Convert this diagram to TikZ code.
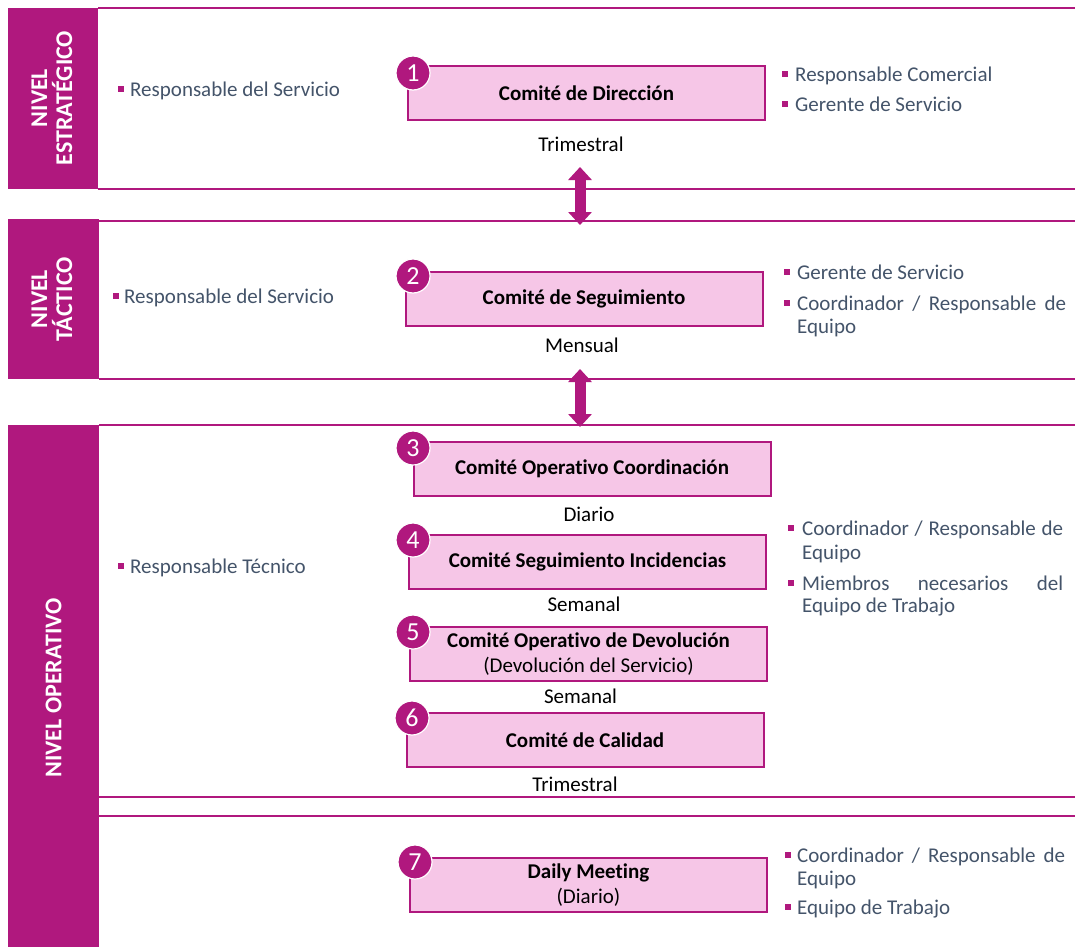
\documentclass[tikz,border=0pt]{standalone}
\usepackage{fontspec}
\setmainfont{Carlito}[Ligatures={NoCommon,NoContextual}]
\usetikzlibrary{arrows.meta}
\definecolor{brand}{HTML}{B0187E}
\definecolor{pinkfill}{HTML}{F6C6E7}
\definecolor{txt}{HTML}{44546A}
\newcommand\bodyfont{\fontsize{21}{24}\selectfont}
\begin{document}
\begin{tikzpicture}[x=1pt,y=-1pt,
  every node/.style={font=\bodyfont},
  sep/.style={draw=brand, line width=2pt},
  comite/.style={draw=brand, line width=2pt, fill=pinkfill, minimum width=357pt,
    minimum height=54pt, inner sep=0pt, align=center, text=black, font=\bodyfont\bfseries},
  num/.style={circle, fill=brand, draw=white, line width=1.2pt, minimum size=34pt,
    inner sep=0pt, text=white, font=\fontsize{26}{26}\selectfont},
  freq/.style={inner sep=0pt, text=black},
  item/.style={anchor=base west, inner sep=0pt, text=txt},
  bulletmark/.style={fill=brand, minimum size=6pt, inner sep=0pt},
  level/.style={text=white, align=center, rotate=90, inner sep=0pt,
    font=\bfseries\fontsize{24}{25}\selectfont},
  dblarrow/.style={draw=brand, line width=11pt,
    {Triangle[width=23pt,length=13pt]}-{Triangle[width=23pt,length=13pt]}}
]
\useasboundingbox (0,0) rectangle (1075,947);
\fill[white] (0,0) rectangle (1075,947);

% ---- level bands ----
\fill[brand] (8,8) rectangle (98,189);
\fill[brand] (8,219) rectangle (99,379);
\fill[brand] (8,425) rectangle (99,947);

\draw[sep] (98,8) -- (1075,8);
\draw[sep] (98,189) -- (1075,189);
\draw[sep] (99,221) -- (1075,221);
\draw[sep] (99,379) -- (1075,379);
\draw[sep] (99,425) -- (1075,425);
\draw[sep] (99,797) -- (1075,797);
\draw[sep] (99,816) -- (1075,816);

\node[level] (lv1) at (52,98) {NIVEL\\ESTRATÉGICO};
\node[level] (lv2) at (52,299) {NIVEL\\TÁCTICO};
\node[level] (lv3) at (53.5,688) {NIVEL OPERATIVO};

% ---- links between levels ----
\coordinate (a1s) at (580,167);
\coordinate (a1e) at (580,225);
\coordinate (a2s) at (580,369);
\coordinate (a2e) at (580,427);
\draw[dblarrow] (a1s) -- (a1e);
\draw[dblarrow] (a2s) -- (a2e);

% ---- committees ----
\node[comite] (c1) at (586.5,93.5) {Comité de Dirección};
\node[comite] (c2) at (584,298.5) {Comité de Seguimiento};
\node[comite] (c3) at (592,468.5) {Comité Operativo Coordinación};
\node[comite] (c4) at (587.5,561.5) {Comité Seguimiento Incidencias};
\node[comite] (c5) at (588.5,654) {Comité Operativo de Devolución\\[1pt]{\mdseries (Devolución del Servicio)}};
\node[comite] (c6) at (585,740) {Comité de Calidad};
\node[comite] (c7) at (588.5,885) {Daily Meeting\\[1pt]{\mdseries (Diario)}};

\node[num] (n1) at (413,73) {1};
\node[num] (n2) at (413,276) {2};
\node[num] (n3) at (413,448) {3};
\node[num] (n4) at (413,540) {4};
\node[num] (n5) at (413,632) {5};
\node[num] (n6) at (412,718) {6};
\node[num] (n7) at (415,862) {7};

% ---- frequencies ----
\node[freq] (f1) at (581,144.5) {Trimestral};
\node[freq] (f2) at (582,345) {Mensual};
\node[freq] (f3) at (589,514) {Diario};
\node[freq] (f4) at (584,604.5) {Semanal};
\node[freq] (f5) at (580.5,696) {Semanal};
\node[freq] (f6) at (575,784.5) {Trimestral};

% ---- participants, left column ----
\node[bulletmark] (lb1) at (121,89) {};
\node[item] (l1) at (130,97) {Responsable del Servicio};
\node[bulletmark] (lb2) at (115.5,295.5) {};
\node[item] (l2) at (124,303) {Responsable del Servicio};
\node[bulletmark] (lb3) at (121,565.5) {};
\node[item] (l3) at (130,573) {Responsable Técnico};

% ---- participants, right column ----
\node[bulletmark] (rb11) at (784.5,74.5) {};
\node[item] (r11) at (795,82) {Responsable Comercial};
\node[bulletmark] (rb12) at (784.5,104.5) {};
\node[item] (r12) at (795,112) {Gerente de Servicio};

\node[bulletmark] (rb21) at (786.5,271.5) {};
\node[item] (r21) at (797,279) {Gerente de Servicio};
\node[bulletmark] (rb22) at (786.5,302.5) {};
\node[item] (r22) at (797,310) {\makebox[269pt][s]{Coordinador / Responsable de}};
\node[item] (r22b) at (797,333) {Equipo};

\node[bulletmark] (rb31) at (790.5,527.5) {};
\node[item] (r31) at (802,535) {\makebox[261pt][s]{Coordinador / Responsable de}};
\node[item] (r31b) at (802,559) {Equipo};
\node[bulletmark] (rb32) at (790.5,582.5) {};
\node[item] (r32) at (802,590) {\makebox[261pt][s]{Miembros necesarios del}};
\node[item] (r32b) at (802,612) {Equipo de Trabajo};

\node[bulletmark] (rb41) at (787.5,854.5) {};
\node[item] (r41) at (797,862) {\makebox[268pt][s]{Coordinador / Responsable de}};
\node[item] (r41b) at (797,885) {Equipo};
\node[bulletmark] (rb42) at (787.5,906.5) {};
\node[item] (r42) at (797,914) {Equipo de Trabajo};
\end{tikzpicture}
\end{document}
